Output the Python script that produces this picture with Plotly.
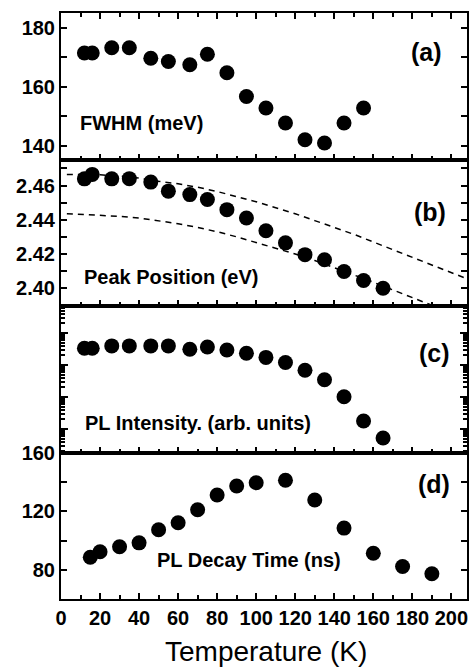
import plotly.graph_objects as go
from plotly.subplots import make_subplots

# ---- data ----
T_a = [12, 16, 26, 35, 46, 55, 66, 75, 85, 95, 105, 115, 125, 135, 145, 155]
fwhm = [171.5, 171.5, 173.3, 173.3, 169.7, 168.6, 167.5, 171.1, 164.8, 156.7, 152.8, 147.7, 142.0, 140.9, 147.7, 152.8]

T_b = [12, 16, 26, 35, 46, 55, 66, 75, 85, 95, 105, 115, 125, 135, 145, 155, 165]
peak = [2.4639, 2.4665, 2.4639, 2.4640, 2.4620, 2.4567, 2.4547, 2.4518, 2.4459, 2.4410,
        2.4336, 2.4265, 2.4196, 2.4166, 2.4098, 2.4045, 2.4000]

T_up = [3, 10, 20, 30, 40, 50, 60, 70, 80, 90, 100, 110, 120, 130, 140, 150, 160, 170, 180, 190, 200, 208]
E_up = [2.4665, 2.4665, 2.4663, 2.4655, 2.4643, 2.4625, 2.4610, 2.4590, 2.4565, 2.4535, 2.4505,
        2.4470, 2.4435, 2.4395, 2.4355, 2.4315, 2.4270, 2.4225, 2.4180, 2.4135, 2.4090, 2.4055]
T_lo = [3, 20, 30, 40, 50, 60, 70, 80, 90, 100, 110, 120, 130, 140, 150, 160, 170, 180, 190]
E_lo = [2.4435, 2.4428, 2.4420, 2.4410, 2.4395, 2.4377, 2.4355, 2.4330, 2.4300, 2.4268,
        2.4235, 2.4200, 2.4162, 2.4120, 2.4080, 2.4035, 2.3990, 2.3945, 2.3900]

T_c = T_b
intensity = [3340, 3340, 3950, 3950, 3950, 3950, 3100, 3670, 2950, 2320, 1730, 1200, 684, 347, 102, 17.7, 5.2]

T_d = [15, 20, 30, 40, 50, 60, 70, 80, 90, 100, 115, 130, 145, 160, 175, 190]
decay = [88.6, 92.3, 95.7, 98.4, 107.4, 112.2, 121.0, 131.1, 137.3, 139.5, 141.2, 127.7, 108.5, 91.3, 82.2, 77.3]

x_ticks = [0, 20, 40, 60, 80, 100, 120, 140, 160, 180, 200]
x_ticklabels = [str(v) for v in x_ticks]

panel_texts = ["FWHM (meV)", "Peak Position (eV)", "PL Intensity. (arb. units)", "PL Decay Time (ns)"]
panel_tags = ["(a)", "(b)", "(c)", "(d)"]

# ---- figure ----
fig = make_subplots(rows=4, cols=1, shared_xaxes=True, vertical_spacing=0)

mk = dict(color="black", size=15)
fig.add_trace(go.Scatter(x=T_a, y=fwhm, mode="markers", marker=mk), row=1, col=1)
fig.add_trace(go.Scatter(x=T_up, y=E_up, mode="lines",
                         line=dict(color="black", width=1.5, dash="6px,5px")), row=2, col=1)
fig.add_trace(go.Scatter(x=T_lo, y=E_lo, mode="lines",
                         line=dict(color="black", width=1.5, dash="6px,5px")), row=2, col=1)
fig.add_trace(go.Scatter(x=T_b, y=peak, mode="markers", marker=mk), row=2, col=1)
fig.add_trace(go.Scatter(x=T_c, y=intensity, mode="markers", marker=mk), row=3, col=1)
fig.add_trace(go.Scatter(x=T_d, y=decay, mode="markers", marker=mk), row=4, col=1)

tickfont = dict(family="Liberation Sans", size=20, color="black", weight="bold")
axcommon = dict(showline=True, linewidth=2, linecolor="black", ticks="inside",
                tickwidth=2, tickcolor="black", showgrid=False, zeroline=False, automargin=False)

for r in range(1, 5):
    fig.update_xaxes(range=[0, 208], tickvals=x_ticks, ticktext=x_ticklabels, ticklen=6,
                     minor=dict(dtick=10, tick0=0, ticks="inside", ticklen=4, tickwidth=2,
                                tickcolor="black", showgrid=False),
                     mirror=("ticks" if r == 1 else True),
                     showticklabels=(r == 4), tickfont=tickfont, row=r, col=1, **axcommon)

fig.update_yaxes(range=[135.3, 185.1], tickvals=[140, 160, 180], ticklen=6,
                 minor=dict(dtick=10, tick0=0, ticks="inside", ticklen=6, tickwidth=2, tickcolor="black"),
                 mirror="ticks", tickfont=tickfont, row=1, col=1, **axcommon)
fig.update_yaxes(range=[2.3896, 2.4752], tickvals=[2.40, 2.42, 2.44, 2.46], tickformat=".2f", ticklen=6,
                 minor=dict(dtick=0.01, tick0=0, ticks="inside", ticklen=6, tickwidth=2, tickcolor="black"),
                 mirror="ticks", tickfont=tickfont, row=2, col=1, **axcommon)
minor_log = [m * 10 ** d for d in range(0, 5) for m in range(2, 10)]
fig.update_yaxes(type="log", range=[0.263, 4.845], tickvals=[10, 100, 1000, 10000], ticklen=7,
                 showticklabels=False,
                 minor=dict(tickvals=minor_log, ticks="inside", ticklen=4, tickwidth=2, tickcolor="black"),
                 mirror="ticks", row=3, col=1, **axcommon)
fig.update_yaxes(range=[60, 160.2], tickvals=[80, 120, 160], ticklen=6,
                 minor=dict(dtick=20, tick0=0, ticks="inside", ticklen=6, tickwidth=2, tickcolor="black"),
                 mirror="ticks", tickfont=tickfont, row=4, col=1, **axcommon)

labfont = dict(family="Liberation Sans", size=20, color="black", weight="bold")
tagfont = dict(family="Liberation Sans", size=25, color="black", weight="bold")
text_pos = [(8.7, 0.252), (10.8, 0.199), (11.3, 0.203), (48.2, 0.264)]
tag_pos = [(196, 0.735), (198.5, 0.644), (200.5, 0.677), (200.5, 0.786)]
axnames = ["", "2", "3", "4"]
for i in range(4):
    xr = "x" + axnames[i]
    yr = "y" + axnames[i] + " domain"
    fig.add_annotation(x=text_pos[i][0], y=text_pos[i][1], xref=xr, yref=yr, text=panel_texts[i],
                       showarrow=False, xanchor="left", yanchor="middle", font=labfont)
    fig.add_annotation(x=tag_pos[i][0], y=tag_pos[i][1], xref=xr, yref=yr, text=panel_tags[i],
                       showarrow=False, xanchor="right", yanchor="middle", font=tagfont)

fig.add_annotation(x=0.505, y=-0.0904, xref="paper", yref="paper", text="Temperature (K)",
                   showarrow=False, xanchor="center", yanchor="middle",
                   font=dict(family="Liberation Sans", size=28, color="black"))

fig.update_layout(width=470, height=668, showlegend=False,
                  margin=dict(l=61, r=3, t=13, b=69, autoexpand=False),
                  paper_bgcolor="white", plot_bgcolor="white")

fig.write_html("out.html", config={"displayModeBar": False},
               post_script="document.body.style.margin='0px';document.body.style.overflow='hidden';")
